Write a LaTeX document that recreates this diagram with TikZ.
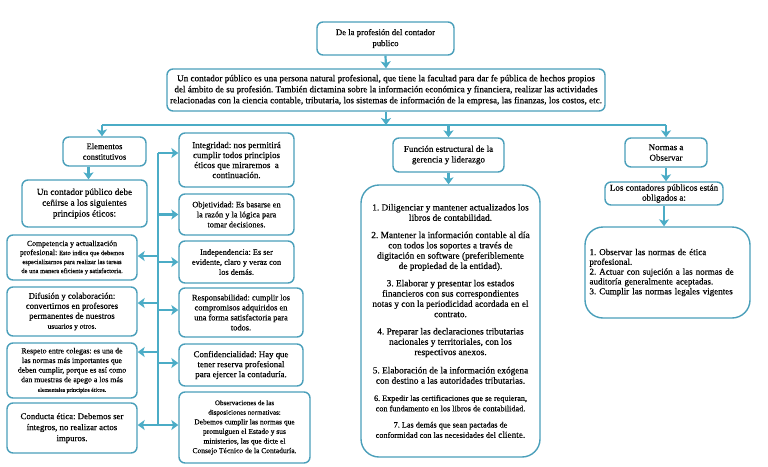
\documentclass[tikz,border=0pt]{standalone}
\usepackage{fontspec}
\setmainfont{Liberation Serif}[FakeBold=0.3]
\usetikzlibrary{arrows.meta}
\definecolor{bc}{HTML}{4A9FBA}
\definecolor{ac}{HTML}{4BACC6}
\newcommand\fsz[2]{\fontsize{#1}{#2}\selectfont}
\frenchspacing
\begin{document}
\begin{tikzpicture}[x=1pt,y=-1pt,
 box/.style={draw=bc, line width=1.4pt, rounded corners=6pt, fill=white, align=center, inner sep=1pt, font=\fsz{8.6}{10}},
 bigbox/.style={box, rounded corners=18pt},
 conn/.style={draw=ac, line width=2.2pt},
 arr/.style={conn, -{Stealth[length=7pt,width=10pt,inset=1.8pt]}},
 darr/.style={conn, {Stealth[length=7pt,width=10pt,inset=1.8pt]}-{Stealth[length=7pt,width=10pt,inset=1.8pt]}},
]
\useasboundingbox[fill=white] (0,0) rectangle (768,466);

% top
\node[box, minimum width=137pt, minimum height=33pt, font=\fsz{8.7}{11}] (top) at (385.5,38.5) {De la profesión del contador\\publico};
\node[box, minimum width=438pt, minimum height=42pt, font=\fsz{9.1}{11}] (big) at (386,90) {Un contador público es una persona natural profesional, que tiene la facultad para dar fe pública de hechos propios\\del ámbito de su profesión. También dictamina sobre la información económica y financiera, realizar las actividades\\relacionadas con la ciencia contable, tributaria, los sistemas de información de la empresa, las finanzas, los costos, etc.};

% left column
\node[box, minimum width=83pt, minimum height=29pt, font=\fsz{8.5}{10.5}] (elem) at (104.5,151.5) {Elementos\\constitutivos};
\node[box, minimum width=125pt, minimum height=47pt, font=\fsz{9.2}{10.8}] (uncont) at (84.5,203.5) {Un contador público debe\\ceñirse a los siguientes\\principios éticos:};
\node[box, minimum width=130pt, minimum height=45pt, font=\fsz{7.8}{9}] (comp) at (72,257.5) {Competencia y actualización\\profesional: {\fsz{6.5}{9}Esto indica que debemos}\\{\fsz{6.5}{9}especializarnos para realizar las tareas}\\{\fsz{6.5}{9}de una manera eficiente y satisfactoria.}};
\node[box, minimum width=130pt, minimum height=49pt, font=\fsz{8.7}{10}] (dif) at (72,311.5) {Difusión y colaboración:\\convertirnos en profesores\\permanentes de nuestros\\{\fsz{7.4}{10}usuarios y otros.}};
\node[box, minimum width=130pt, minimum height=55pt, font=\fsz{7.8}{9.6}] (resp) at (72,370.5) {Respeto entre colegas: es una de\\las normas más importantes que\\deben cumplir, porque es así como\\dan muestras de apego a los más\\{\fsz{5.8}{9.6}elementales principios éticos.}};
\node[box, minimum width=130pt, minimum height=50pt, font=\fsz{8.8}{11}] (cond) at (72,428) {Conducta ética: Debemos ser\\íntegros, no realizar actos\\impuros.};

% middle column
\node[box, minimum width=115pt, minimum height=54pt, font=\fsz{8.9}{10}] (integ) at (236.5,160) {Integridad: nos permitirá\\cumplir todos principios\\éticos que miraremos\ \ a\\continuación.};
\node[box, minimum width=115pt, minimum height=41pt, font=\fsz{8.3}{10}] (objet) at (236.5,214.5) {Objetividad: Es basarse en\\la razón y la lógica para\\tomar decisiones.};
\node[box, minimum width=115pt, minimum height=42pt, font=\fsz{8.3}{10}] (indep) at (236.5,262) {Independencia: Es ser\\evidente, claro y veraz con\\los demás.};
\node[box, minimum width=124pt, minimum height=49pt, font=\fsz{8.4}{10}] (respons) at (241,312.5) {Responsabilidad: cumplir los\\compromisos adquiridos en\\una forma satisfactoria para\\todos.};
\node[box, minimum width=124pt, minimum height=42pt, font=\fsz{8.8}{10}] (confid) at (241,365) {Confidencialidad: Hay que\\tener reserva profesional\\para ejercer la contaduría.};
\node[box, minimum width=131pt, minimum height=71pt, font=\fsz{7.5}{9.6}] (obs) at (244.5,427.5) {{\fsz{7.0}{9.6}Observaciones de las}\\{\fsz{7.0}{9.6}disposiciones normativas:}\\Debemos cumplir las normas que\\promulguen el Estado y sus\\ministerios, las que dicte el\\Consejo Técnico de la Contaduría.};

% center column
\node[box, minimum width=111pt, minimum height=34pt, font=\fsz{9.0}{10.5}] (func) at (448.5,155) {Función estructural de la\\gerencia y liderazgo};
\node[bigbox, minimum width=179pt, minimum height=272pt, font=\fsz{9.3}{10.3}] (flist) at (450.5,321) {%
1. Diligenciar y mantener actualizados los\\libros de contabilidad.\\[7pt]
2. Mantener la información contable al día\\con todos los soportes a través de\\digitación en software (preferiblemente\\de propiedad de la entidad).\\[7pt]
3. Elaborar y presentar los estados\\financieros con sus correspondientes\\notas y con la periodicidad acordada en el\\contrato.\\[7pt]
4. Preparar las declaraciones tributarias\\nacionales y territoriales, con los\\respectivos anexos.\\[8pt]
5. Elaboración de la información exógena\\con destino a las autoridades tributarias.\\[7pt]
{\fsz{8.2}{10}6. Expedir las certificaciones que se requieran,}\\{\fsz{8.2}{10}con fundamento en los libros de contabilidad.}\\[6pt]
{\fsz{8.2}{10}7. Las demás que sean pactadas de}\\{\fsz{8.2}{10}conformidad con las necesidades del} cliente.};

% right column
\node[box, minimum width=82pt, minimum height=29pt, font=\fsz{9.0}{10.5}] (normas) at (666,152.5) {Normas a\\Observar};
\node[box, minimum width=118pt, minimum height=23pt, font=\fsz{9.0}{10}] (losc) at (664,193.5) {Los contadores públicos están\\obligados a:};
\node[bigbox, minimum width=165pt, minimum height=91pt, align=left, font=\fsz{9.0}{9.8}, text width=156pt] (nlist) at (667.5,272.5) {%
1. Observar las normas de ética\\profesional.\\2. Actuar con sujeción a las normas de\\auditoría generalmente aceptadas.\\3. Cumplir las normas legales vigentes};

% connectors top
\draw[arr] (top.south) -- (big.north);
\coordinate (busL) at (102,125);
\coordinate (busR) at (666,125);
\draw[conn] (busL) -- (busR);
\draw[arr] (big.south) -- (big.south |- busL);
\draw[arr] (busL) -- (busL |- elem.north);
\draw[arr] (func.north |- busL) -- (func.north);
\draw[arr] (busR) -- (busR |- normas.north);

% left / right chains
\draw[arr] ([xshift=-16pt]elem.south) -- ([xshift=-16pt]elem.south |- uncont.north);
\draw[arr] (func.south) -- (func.south |- flist.north);
\draw[arr] (normas.south) -- (normas.south |- losc.north);
\draw[arr] (losc.south) -- (losc.south |- nlist.north);

% vertical bus
\coordinate (vt) at (158,153);
\coordinate (vb) at (158,425);
\draw[conn] (vt) -- (vb);
\draw[arr] (vt) -- (vt -| integ.west);
\draw[arr] (objet.west -| vt) -- (objet.west);
\draw[arr] (indep.west -| vt) -- (indep.west);
\draw[arr] (158,310) -- (respons.west |- 0,310);
\draw[arr] (158,363) -- (confid.west |- 0,363);
\draw[arr] (158,256) -- (comp.east |- 0,256);
\draw[arr] (158,303) -- (dif.east |- 0,303);
\draw[arr] (158,352) -- (resp.east |- 0,352);
\draw[darr] (cond.east |- vb) -- (obs.west |- vb);
\end{tikzpicture}
\end{document}
